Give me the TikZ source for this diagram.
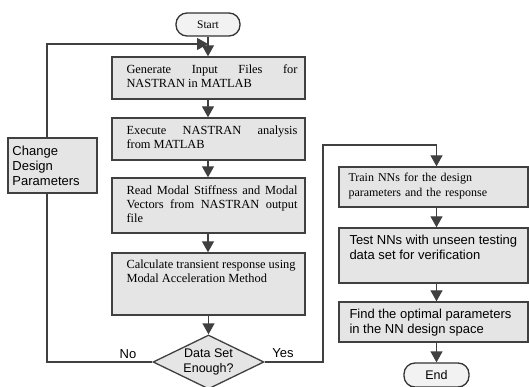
\documentclass[tikz,border=0pt]{standalone}
\usepackage{fontspec}
\setmainfont{Liberation Serif}
\setsansfont{Liberation Sans}
\usetikzlibrary{shapes.geometric,arrows.meta,calc}
\begin{document}
\begin{tikzpicture}[x=1pt,y=-1pt,
  box/.style={draw=black!75, line width=1.4pt, fill=gray!20, inner sep=0pt, minimum width=193pt},
  rbox/.style={box, minimum width=189pt},
  term/.style={draw=black!80, line width=1.3pt, fill=gray!10, rounded corners=11pt, inner sep=0pt},
  conn/.style={draw=black!75, line width=1.3pt},
  arr/.style={conn, -{Triangle[width=12pt,length=11pt]}},
  serif/.style={font=\fontsize{12.4}{14}\selectfont, text width=171pt, align=justify, inner sep=0pt, anchor=north west},
  sans/.style={font=\sffamily\fontsize{13}{15}\selectfont, align=left, inner sep=0pt, anchor=north west},
  lab/.style={font=\sffamily\fontsize{13}{15}\selectfont, inner sep=0pt},
]
\useasboundingbox (0,0) rectangle (529,387);
\fill[white] (0,0) rectangle (529,387);

% terminals
\node[term, minimum width=64pt, minimum height=23pt, font=\fontsize{11.5}{14}\selectfont] (start) at (208,24.5) {Start};
\node[term, minimum width=65pt, minimum height=24pt, font=\sffamily\fontsize{12.5}{15}\selectfont] (endn) at (436.5,375) {End};

% left column
\node[box, minimum height=42pt] (b1) at (208.5,78) {};
\node[serif] (t1) at ($(b1.north west)+(15,8)$) {Generate Input Files for\linebreak NASTRAN in MATLAB};
\node[box, minimum height=42pt] (b2) at (208.5,139) {};
\node[serif] (t2) at ($(b2.north west)+(15,8)$) {Execute NASTRAN analysis\linebreak from MATLAB};
\node[box, minimum height=55pt] (b3) at (208.5,205.5) {};
\node[serif] (t3) at ($(b3.north west)+(15,8)$) {Read Modal Stiffness and Modal\linebreak Vectors from NASTRAN output\linebreak file};
\node[box, minimum height=62pt] (b4) at (208.5,284) {};
\node[serif] (t4) at ($(b4.north west)+(15,7)$) {Calculate transient response using\\ Modal Acceleration Method};

% decision
\node[diamond, draw=black!75, line width=1.3pt, fill=gray!20, minimum width=111pt, minimum height=54pt, inner sep=0pt] (dec) at (208.5,362) {};
\node[font=\sffamily\fontsize{12.5}{15}\selectfont, align=center, inner sep=0pt] (dect) at (dec) {Data Set\\Enough?};

% change design
\node[box, minimum width=89pt, minimum height=55pt] (chg) at (52.5,165.5) {};
\node[sans, anchor=west] (tc) at ($(chg.west)+(5,0)$) {Change\\Design\\Parameters};

% right column
\node[rbox, minimum height=40pt] (b5) at (433.5,187) {};
\node[serif, font=\fontsize{12}{15}\selectfont, align=left] (t5) at ($(b5.north west)+(10,7)$) {Train NNs for the design\\parameters and the response};
\node[rbox, minimum height=55pt] (b6) at (433.5,255.5) {};
\node[sans] (t6) at ($(b6.north west)+(11,8)$) {Test NNs with unseen testing\\data set for verification};
\node[rbox, minimum height=40pt] (b7) at (433.5,322) {};
\node[sans] (t7) at ($(b7.north west)+(11,8)$) {Find the optimal parameters\\in the NN design space};

% labels
\node[lab] (no) at (128,354) {No};
\node[lab] (yes) at (283,353) {Yes};

% connectors
\coordinate (lx) at (47,0);
\coordinate (fb) at (208,44);
\coordinate (ya) at (323,145);
\draw[arr] (start.south) -- (start.south |- b1.north);
\draw[arr] (b1.south -| start) -- (b2.north -| start);
\draw[arr] (b2.south -| start) -- (b3.north -| start);
\draw[arr] (b3.south -| start) -- (b4.north -| start);
\draw[arr] (b4.south -| dec) -- (dec.north);
\draw[conn] (dec.west) -| (chg.south -| lx);
\draw[arr] (chg.north -| lx) |- (fb);
\draw[arr] (dec.east) -| (ya) -| (b5.north -| endn);
\draw[arr] (b5.south -| endn) -- (b6.north -| endn);
\draw[arr] (b6.south -| endn) -- (b7.north -| endn);
\draw[arr] (b7.south -| endn) -- (endn.north);
\end{tikzpicture}
\end{document}
